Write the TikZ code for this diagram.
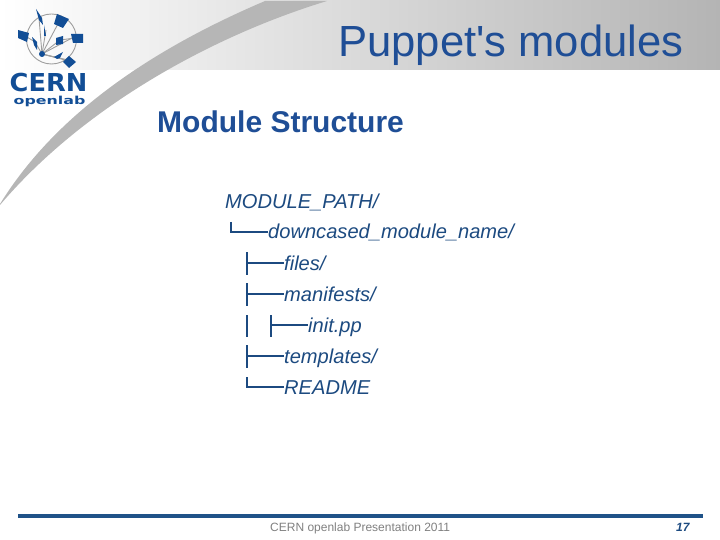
\documentclass[tikz,border=0pt]{standalone}
\usepackage{fontspec}
\setmainfont{Liberation Sans}
\newfontfamily\logofont{DejaVu Sans}
\usetikzlibrary{positioning}
\definecolor{titleblue}{HTML}{1F4E96}
\definecolor{treeblue}{HTML}{1C4A80}
\definecolor{logoblue}{HTML}{124E96}
\definecolor{bandgrey}{HTML}{B4B4B4}
\definecolor{swooshgrey}{HTML}{B6B6B6}
\definecolor{ruleblue}{HTML}{1F5288}
\tikzset{
  treetext/.style={anchor=base west,inner sep=0pt,text height=14pt,text depth=0pt,text=treeblue,font=\fontsize{20.1}{20}\selectfont\itshape},
  treeline/.style={draw=treeblue,line width=1.5pt},
  logoshape/.style={fill=logoblue,draw=none},
  netline/.style={draw=black!38,line width=0.9pt},
}
\begin{document}
\begin{tikzpicture}[x=1pt,y=-1pt]
  \useasboundingbox (0,0) rectangle (720,540);
  \shade[left color=white,right color=bandgrey] (0,0) rectangle (720,70);
  \fill[swooshgrey] (0,204) .. controls (55,115) and (150,50) .. (265,1)
    -- (327,1) .. controls (215,35) and (85,105) .. (0,205) -- cycle;

  \draw[netline] (51.5,39) circle (25);
  \foreach \nx/\ny in {39/18,46/30,60/40,72/38,35/42,58/58,68/60,60/20}
    \draw[netline] (42,54) -- (\nx,\ny);
  \draw[netline] (60,40) -- (75,38);
  \draw[netline] (22,34) -- (35,42);
  \draw[netline] (42,54) -- (69,61);
  \fill[logoshape] (36,9) -- (42,18) -- (43,25) -- (39,20) -- cycle;
  \fill[logoshape] (44,25) -- (46,36) -- (44,36) -- cycle;
  \fill[logoshape] (57,14) -- (69,19) -- (63,28) -- (54,24) -- cycle;
  \fill[logoshape] (18,30) -- (29,33) -- (27,42) -- (18,38) -- cycle;
  \fill[logoshape] (71,34) -- (83,34) -- (83,43) -- (73,43) -- cycle;
  \fill[logoshape] (56,38) -- (63,36) -- (63,44) -- (56,45) -- cycle;
  \fill[logoshape] (32,37) -- (37,42) -- (37,50) -- (34,45) -- cycle;
  \fill[logoshape] (42,54) circle (3);
  \fill[logoshape] (54,57) -- (63,52) -- (60,58) -- (57,59) -- cycle;
  \fill[logoshape] (69,56) -- (76,62) -- (69,68) -- (63,62) -- cycle;
  \node[anchor=base,inner sep=0pt,text=logoblue,font=\logofont\bfseries\fontsize{24.7}{25}\selectfont,xscale=1.04] (cern) at (48.5,92) {CERN};
  \node[anchor=base,inner sep=0pt,text=logoblue,font=\logofont\bfseries\fontsize{11}{11}\selectfont,xscale=1.44] (openlab) at (49.5,104.5) {openlab};

  \node[anchor=base west,inner sep=0pt,text=titleblue,font=\fontsize{43.6}{44}\selectfont] (title) at (338,57) {Puppet\textquotesingle s modules};
  \node[anchor=base west,inner sep=0pt,text=titleblue,font=\fontsize{30}{30}\selectfont\bfseries] (heading) at (157,132.5) {Module Structure};

  \node[treetext] (path) at (225,208) {MODULE\_PATH/};
  \node[treetext] (module) at (268,239) {downcased\_module\_name/};
  \node[treetext] (files) at (284,270) {files/};
  \node[treetext] (manifests) at (284,301) {manifests/};
  \node[treetext] (init) at (308,332) {init.pp};
  \node[treetext] (templates) at (284,363) {templates/};
  \node[treetext] (readme) at (284,394) {README};

  \coordinate (c0) at (231,222);
  \coordinate (c1) at (247,252);
  \coordinate (c2) at (247,283);
  \coordinate (c3a) at (247,315);
  \coordinate (c3b) at (247,337);
  \coordinate (c4a) at (271,315);
  \coordinate (c4b) at (271,337);
  \coordinate (c5) at (247,345);
  \coordinate (c6) at (247,377);
  \draw[treeline] (c0) |- (module.west);
  \draw[treeline] (c1) -- +(0,23);
  \draw[treeline] (c1 |- files.west) -- (files.west);
  \draw[treeline] (c2) -- +(0,23);
  \draw[treeline] (c2 |- manifests.west) -- (manifests.west);
  \draw[treeline] (c3a) -- (c3b);
  \draw[treeline] (c4a) -- (c4b);
  \draw[treeline] (c4a |- init.west) -- (init.west);
  \draw[treeline] (c5) -- +(0,23);
  \draw[treeline] (c5 |- templates.west) -- (templates.west);
  \draw[treeline] (c6) |- (readme.west);

  \fill[ruleblue] (18,514) rectangle (703,517.5);
  \node[anchor=base west,inner sep=0pt,text=black!50,font=\fontsize{12}{12}\selectfont] (footer) at (270,531) {CERN openlab Presentation 2011};
  \node[anchor=base west,inner sep=0pt,text=treeblue,font=\fontsize{12}{12}\selectfont\bfseries\itshape] (page) at (676,531) {17};
\end{tikzpicture}
\end{document}
